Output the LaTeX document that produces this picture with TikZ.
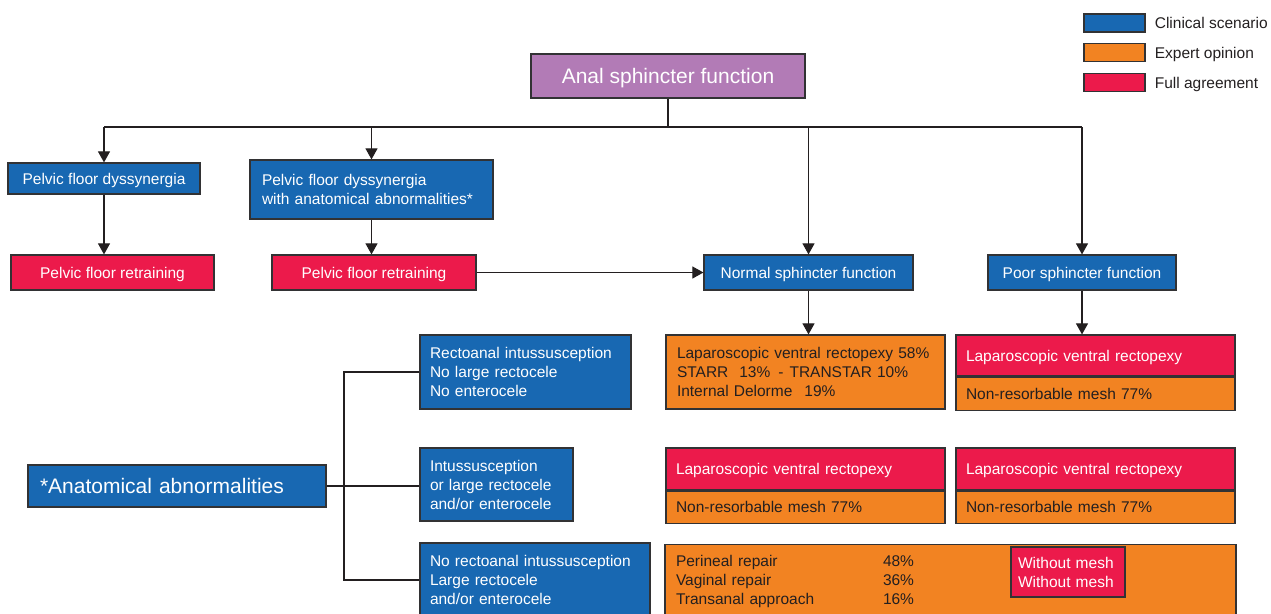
\documentclass[tikz,border=0pt]{standalone}
\usepackage{fontspec}
\setmainfont{Liberation Sans}
\usetikzlibrary{arrows.meta,positioning}
\definecolor{clinblue}{RGB}{24,104,178}
\definecolor{exporange}{RGB}{242,131,34}
\definecolor{agreered}{RGB}{236,26,75}
\definecolor{rootpurple}{RGB}{178,123,182}
\definecolor{inkdark}{RGB}{35,31,32}
\definecolor{edgegray}{RGB}{50,50,52}
\newcommand{\txtsize}{\fontsize{15.5}{19}\selectfont}

\begin{document}
\begin{tikzpicture}[x=1pt,y=-1pt,
  node distance=9pt,
  base/.style={rectangle,draw=edgegray,line width=1.2pt,inner sep=0pt,font=\txtsize},
  oneline/.style={text depth=0pt},
  clin/.style={base,fill=clinblue,text=white},
  expert/.style={base,fill=exporange,text=inkdark},
  agree/.style={base,fill=agreered,text=white},
  leftbox/.style={align=left,inner xsep=10pt,text width=#1},
  legtxt/.style={inner sep=0pt,text height=11pt,text depth=0pt,font=\txtsize,text=inkdark},
  arrow/.style={-{Triangle[length=11pt,width=12pt]},draw=inkdark,line width=1.1pt},
  link/.style={draw=inkdark,line width=1.1pt}
]
\useasboundingbox (0,0) rectangle (1271,613);
% legend
\node[clin,minimum width=61,minimum height=18] (legclin) at (1114.5,23) {};
\node[expert,minimum width=61,minimum height=18] (legexp) at (1114.5,52.5) {};
\node[agree,minimum width=61,minimum height=18] (legagr) at (1114.5,82.5) {};
\node[legtxt,right=9pt of legclin] (legclinlab) {Clinical scenario};
\node[legtxt,right=9pt of legexp] (legexplab) {Expert opinion};
\node[legtxt,right=9pt of legagr] (legagrlab) {Full agreement};
% top level
\node[base,oneline,fill=rootpurple,text=white,font=\fontsize{21}{25}\selectfont,
      minimum width=274,minimum height=44] (root) at (668,76) {Anal sphincter function};
\node[clin,oneline,minimum width=192,minimum height=31] (pfd) at (104,178.5) {Pelvic floor dyssynergia};
\node[clin,leftbox=219,inner xsep=12pt,minimum height=59] (pfda) at (371.5,189.5)
  {Pelvic floor dyssynergia\\with anatomical abnormalities*};
\node[agree,oneline,minimum width=203,minimum height=35] (ret1) at (112.5,272.5) {Pelvic floor retraining};
\node[agree,oneline,minimum width=204,minimum height=35] (ret2) at (374,272.5) {Pelvic floor retraining};
\node[clin,oneline,minimum width=209,minimum height=35] (normal) at (808.5,272.5) {Normal sphincter function};
\node[clin,oneline,minimum width=188,minimum height=35] (poor) at (1082,272.5) {Poor sphincter function};
% scenarios
\node[clin,leftbox=274,inner xsep=12pt,minimum height=42,font=\fontsize{21}{25}\selectfont]
  (anat) at (177,486) {*Anatomical abnormalities};
\node[clin,leftbox=191,minimum height=74] (ra) at (525.5,372)
  {Rectoanal intussusception\\No large rectocele\\No enterocele};
\node[clin,leftbox=133,minimum height=73] (ia) at (496.5,484.5)
  {Intussusception\\or large rectocele\\and/or enterocele};
\node[clin,leftbox=210,minimum height=74] (nora) at (535,580)
  {No rectoanal intussusception\\Large rectocele\\and/or enterocele};
% options
\node[expert,leftbox=257,inner xsep=11pt,minimum height=74] (lapnorm) at (805.5,372)
  {Laparoscopic ventral rectopexy 58\%\\
   STARR\hspace{11pt}13\%\hspace{8pt}-\hspace{6pt}TRANSTAR 10\%\\
   Internal Delorme\hspace{12pt}19\%};
\node[agree,oneline,leftbox=259,minimum height=41] (lvrpoor) at (1095.5,355.5) {Laparoscopic ventral rectopexy};
\node[expert,oneline,leftbox=259,minimum height=33,below=0pt of lvrpoor] (meshpoor) {Non-resorbable mesh 77\%};
\node[agree,oneline,leftbox=259,minimum height=42] (lvria) at (805.5,469) {Laparoscopic ventral rectopexy};
\node[expert,oneline,leftbox=259,minimum height=32,below=0pt of lvria] (meshia) {Non-resorbable mesh 77\%};
\node[agree,oneline,leftbox=259,minimum height=42] (lvrib) at (1095.5,469) {Laparoscopic ventral rectopexy};
\node[expert,oneline,leftbox=259,minimum height=32,below=0pt of lvrib] (meshib) {Non-resorbable mesh 77\%};
\node[expert,leftbox=549,inner xsep=11pt,minimum height=74] (repair) at (950.5,581.5)
  {\begin{tabular}{@{}p{207pt}@{}l@{}}
   Perineal repair & 48\%\\
   Vaginal repair & 36\%\\
   Transanal approach & 16\%
   \end{tabular}};
\node[agree,leftbox=100,inner xsep=7pt,minimum height=50] (nomesh) at (1068,572)
  {Without mesh\\Without mesh};
% connectors
\coordinate (bus) at (668,127);
\draw[link] (root.south) -- (bus);
\draw[link] (bus -| pfd.north) -- (bus -| poor.north);
\draw[arrow] (bus -| pfd.north) -- (pfd.north);
\draw[arrow] (bus -| pfda.north) -- (pfda.north);
\draw[arrow] (bus -| normal.north) -- (normal.north);
\draw[arrow] (bus -| poor.north) -- (poor.north);
\draw[arrow] (pfd.south) -- (pfd.south |- ret1.north);
\draw[arrow] (pfda.south) -- (pfda.south |- ret2.north);
\draw[arrow] (ret2.east) -- (normal.west);
\draw[arrow] (normal.south) -- (normal.south |- lapnorm.north);
\draw[arrow] (poor.south) -- (poor.south |- lvrpoor.north);
\coordinate (fork) at (344,486);
\draw[link] (anat.east) -- (anat.east -| ia.west);
\draw[link] (ra.west) -| (fork) |- (nora.west);
\end{tikzpicture}
\end{document}
